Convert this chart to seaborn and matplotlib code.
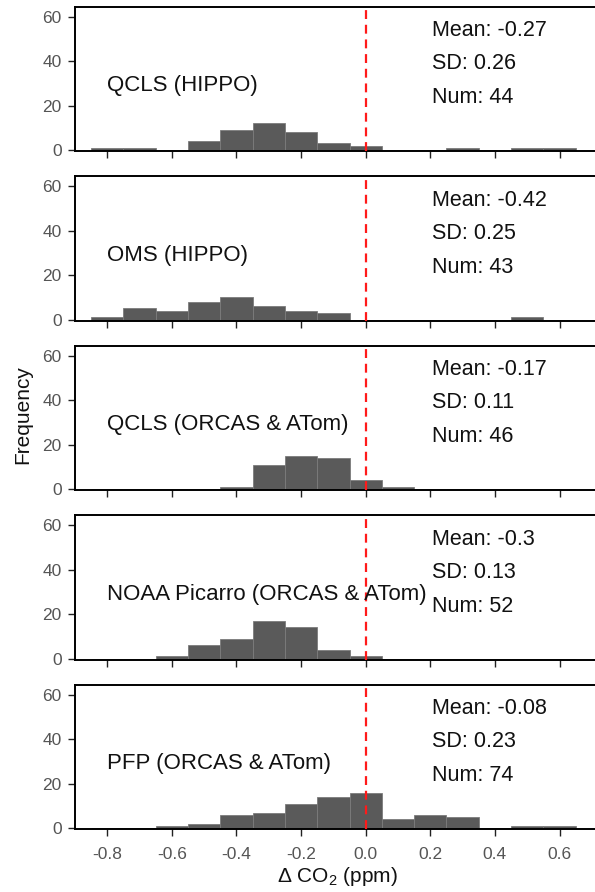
import numpy as np
import pandas as pd
import matplotlib
matplotlib.use("Agg")
import matplotlib.pyplot as plt
import seaborn as sns

# Histogram bins (width 0.1 ppm, centred on -0.8 ... 0.6)
bin_centers = [-0.8, -0.7, -0.6, -0.5, -0.4, -0.3, -0.2, -0.1, 0.0, 0.1, 0.2, 0.3, 0.4, 0.5, 0.6]
bin_edges = [-0.85, -0.75, -0.65, -0.55, -0.45, -0.35, -0.25, -0.15, -0.05, 0.05, 0.15, 0.25, 0.35, 0.45, 0.55, 0.65]

instruments = ["QCLS (HIPPO)", "OMS (HIPPO)", "QCLS (ORCAS & ATom)",
               "NOAA Picarro (ORCAS & ATom)", "PFP (ORCAS & ATom)"]

counts_qcls_hippo = [1, 1, 0, 4, 9, 12, 8, 3, 2, 0, 0, 1, 0, 1, 1]
counts_oms_hippo = [1, 5, 4, 8, 10, 6, 4, 3, 0, 0, 0, 0, 0, 1, 0]
counts_qcls_orcas = [0, 0, 0, 0, 1, 11, 15, 14, 4, 1, 0, 0, 0, 0, 0]
counts_picarro = [0, 0, 1, 6, 9, 17, 14, 4, 1, 0, 0, 0, 0, 0, 0]
counts_pfp = [0, 0, 1, 2, 6, 7, 11, 14, 16, 4, 6, 5, 0, 1, 1]

means = ["-0.27", "-0.42", "-0.17", "-0.3", "-0.08"]
sds = ["0.26", "0.25", "0.11", "0.13", "0.23"]
nums = ["44", "43", "46", "52", "74"]

x_ticks = [-0.8, -0.6, -0.4, -0.2, 0.0, 0.2, 0.4, 0.6]
x_ticklabels = ["-0.8", "-0.6", "-0.4", "-0.2", "0.0", "0.2", "0.4", "0.6"]
y_ticks = [0, 20, 40, 60]

all_counts = [counts_qcls_hippo, counts_oms_hippo, counts_qcls_orcas,
              counts_picarro, counts_pfp]

sns.set_style("ticks")
plt.rcParams["font.family"] = ["Liberation Sans", "DejaVu Sans"]
plt.rcParams["mathtext.fontset"] = "custom"
plt.rcParams["mathtext.rm"] = "Liberation Sans"
plt.rcParams["mathtext.it"] = "Liberation Sans:italic"

W, H = 595, 892
fig = plt.figure(figsize=(W / 100, H / 100), dpi=100)

left_px, right_px = 75, 600
top0, pitch, height = 6.7, 169.5, 144.5

tick_gray = "#555555"
text_color = "#111111"
stat_size = 15.5
name_size = 16

for i, (name, counts) in enumerate(zip(instruments, all_counts)):
    top = top0 + i * pitch
    ax = fig.add_axes([left_px / W, 1 - (top + height) / H,
                       (right_px - left_px) / W, height / H])
    df = pd.DataFrame({"delta": bin_centers, "n": counts})
    sns.histplot(data=df, x="delta", weights="n", bins=bin_edges, ax=ax,
                 color="#5a5a5a", edgecolor="#7c7c7c", linewidth=0.6,
                 alpha=1.0)
    ax.axvline(0.0, color="#ff1a1a", linewidth=1.6,
               linestyle=(0, (4, 2.6)), zorder=3)

    ax.set_xlim(-0.9, -0.9 + (right_px - left_px) / 323.0)
    ax.set_ylim(-0.5, 64.5)
    ax.set_yticks(y_ticks)
    ax.set_xticks(x_ticks)
    ax.set_ylabel("")
    for s in ax.spines.values():
        s.set_linewidth(1.4)
        s.set_color("black")
    ax.tick_params(axis="both", direction="out", length=5, width=1.0,
                   color="#222222", labelcolor=tick_gray, labelsize=12.5)
    ax.tick_params(axis="x", pad=8)
    ax.tick_params(axis="y", pad=4.5)
    if i < len(instruments) - 1:
        ax.set_xticklabels([])
        ax.set_xlabel("")
    else:
        ax.set_xticklabels(x_ticklabels)
        ax.set_xlabel("Δ CO$_2$ (ppm)", fontsize=15, color=text_color,
                      labelpad=2)

    ax.text(-0.8, 26.5, name, fontsize=name_size, ha="left",
            va="baseline", color=text_color)
    ax.text(0.205, 51.3, f"Mean: {means[i]}", fontsize=stat_size,
            ha="left", va="baseline", color=text_color)
    ax.text(0.205, 36.3, f"SD: {sds[i]}", fontsize=stat_size, ha="left",
            va="baseline", color=text_color)
    ax.text(0.205, 21.0, f"Num: {nums[i]}", fontsize=stat_size,
            ha="left", va="baseline", color=text_color)

fig.text(23 / W, 1 - 415 / H, "Frequency", rotation=90, ha="center",
         va="center", fontsize=15, color=text_color)

fig.savefig("out.png", dpi=100)
